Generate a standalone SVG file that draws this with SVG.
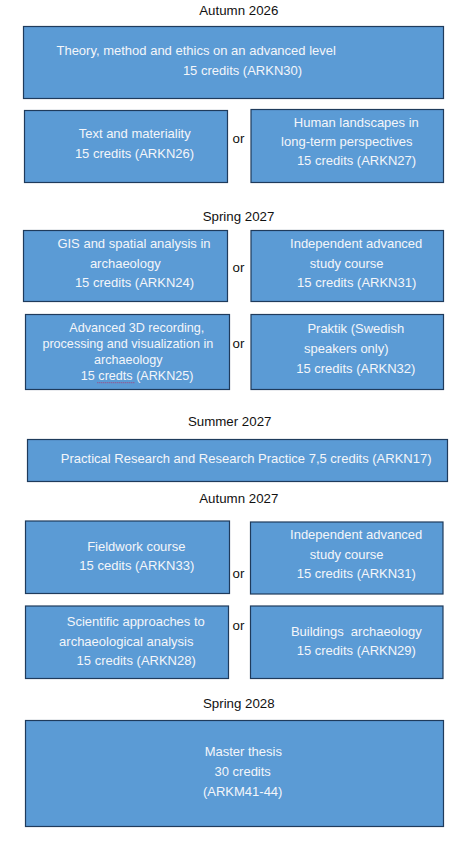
<svg xmlns="http://www.w3.org/2000/svg" width="464" height="843" viewBox="0 0 464 843">
<style>
.box{fill:#5B9BD5;stroke:#1F3B5C;stroke-width:1.2}
.t{font-family:"Liberation Sans",Arial,sans-serif;font-size:13px;fill:#F4F6FA;text-anchor:middle;white-space:pre}
.s{font-size:12.6px}
.h{font-family:"Liberation Sans",Arial,sans-serif;font-size:13.3px;fill:#111;text-anchor:middle}
.or{font-family:"Liberation Sans",Arial,sans-serif;font-size:13.3px;fill:#111;text-anchor:middle}
</style>
<rect width="464" height="843" fill="#fff"/>
<g id="headers">
<text class="h" x="238.8" y="15">Autumn 2026</text>
<text class="h" x="238.5" y="220.7">Spring 2027</text>
<text class="h" x="229.7" y="426">Summer 2027</text>
<text class="h" x="238.8" y="502.7">Autumn 2027</text>
<text class="h" x="238.8" y="707.7">Spring 2028</text>
</g>
<g id="ors">
<text class="or" x="238.5" y="143">or</text>
<text class="or" x="238.5" y="271.7">or</text>
<text class="or" x="238.5" y="348.3">or</text>
<text class="or" x="238.5" y="578.3">or</text>
<text class="or" x="238.5" y="630">or</text>
</g>
<g id="connectors"></g>
<g id="arkn30">
<rect class="box" x="23.5" y="26.5" width="420" height="72"/>
<text class="t" x="196.2" y="55">Theory, method and ethics on an advanced level</text>
<text class="t" x="242.5" y="75">15 credits (ARKN30)</text>
</g>
<g id="arkn26">
<rect class="box" x="24.5" y="110.5" width="203" height="72"/>
<text class="t" x="134.7" y="138">Text and materiality</text>
<text class="t" x="134.5" y="158">15 credits (ARKN26)</text>
</g>
<g id="arkn27">
<rect class="box" x="251" y="109.5" width="192.5" height="73"/>
<text class="t" x="356.3" y="127">Human landscapes in</text>
<text class="t" x="346.8" y="146">long-term perspectives</text>
<text class="t" x="356.5" y="165">15 credits (ARKN27)</text>
</g>
<g id="arkn24">
<rect class="box" x="23.5" y="230.5" width="204" height="71"/>
<text class="t" x="134" y="248.3">GIS and spatial analysis in</text>
<text class="t" x="125.3" y="268.3">archaeology</text>
<text class="t" x="134.5" y="287.3">15 credits (ARKN24)</text>
</g>
<g id="arkn31a">
<rect class="box" x="251" y="230.5" width="192.5" height="71"/>
<text class="t" x="356.2" y="248.3">Independent advanced</text>
<text class="t" x="346.7" y="268.3">study course</text>
<text class="t" x="356.7" y="287.3">15 credits (ARKN31)</text>
</g>
<g id="arkn25">
<rect class="box" x="25.5" y="314.5" width="204" height="75"/>
<text class="t s" x="136.8" y="331.7">Advanced 3D recording,</text>
<text class="t s" x="127.8" y="348.3">processing and visualization in</text>
<text class="t s" x="128.3" y="364">archaeology</text>
<text class="t s" x="137.2" y="380">15 credts (ARKN25)</text>
<line x1="97.3" y1="382.7" x2="135" y2="382.7" stroke="#B5346A" stroke-width="0.9" stroke-dasharray="1,1"/>
</g>
<g id="arkn32">
<rect class="box" x="251" y="314.5" width="192.5" height="75"/>
<text class="t" x="355.8" y="333.3">Praktik (Swedish</text>
<text class="t" x="346.3" y="353.3">speakers only)</text>
<text class="t" x="355.8" y="373.3">15 credits (ARKN32)</text>
</g>
<g id="arkn17">
<rect class="box" x="27.5" y="439.5" width="420" height="42"/>
<text class="t" x="246.2" y="463.3">Practical Research and Research Practice 7,5 credits (ARKN17)</text>
</g>
<g id="arkn33">
<rect class="box" x="25.5" y="521" width="204" height="72.5"/>
<text class="t" x="136.3" y="550.7">Fieldwork course</text>
<text class="t" x="136.8" y="570">15 cedits (ARKN33)</text>
</g>
<g id="arkn31b">
<rect class="box" x="250.5" y="522" width="192.5" height="72"/>
<text class="t" x="356.2" y="539.3">Independent advanced</text>
<text class="t" x="346.7" y="559.3">study course</text>
<text class="t" x="356.3" y="578.3">15 credits (ARKN31)</text>
</g>
<g id="arkn28">
<rect class="box" x="25.5" y="606" width="203" height="72.5"/>
<text class="t" x="135.8" y="625.7">Scientific approaches to</text>
<text class="t" x="126.3" y="645.7">archaeological analysis</text>
<text class="t" x="136.2" y="665">15 credits (ARKN28)</text>
</g>
<g id="arkn29">
<rect class="box" x="250.5" y="606" width="192.5" height="72.5"/>
<text class="t" x="356.3" y="636">Buildings  archaeology</text>
<text class="t" x="356.3" y="655">15 credits (ARKN29)</text>
</g>
<g id="arkm41-44">
<rect class="box" x="25.5" y="720.5" width="418" height="106"/>
<text class="t" x="243.3" y="755.7">Master thesis</text>
<text class="t" x="242.7" y="775.7">30 credits</text>
<text class="t" x="242.7" y="795.7">(ARKM41-44)</text>
</g>
</svg>
